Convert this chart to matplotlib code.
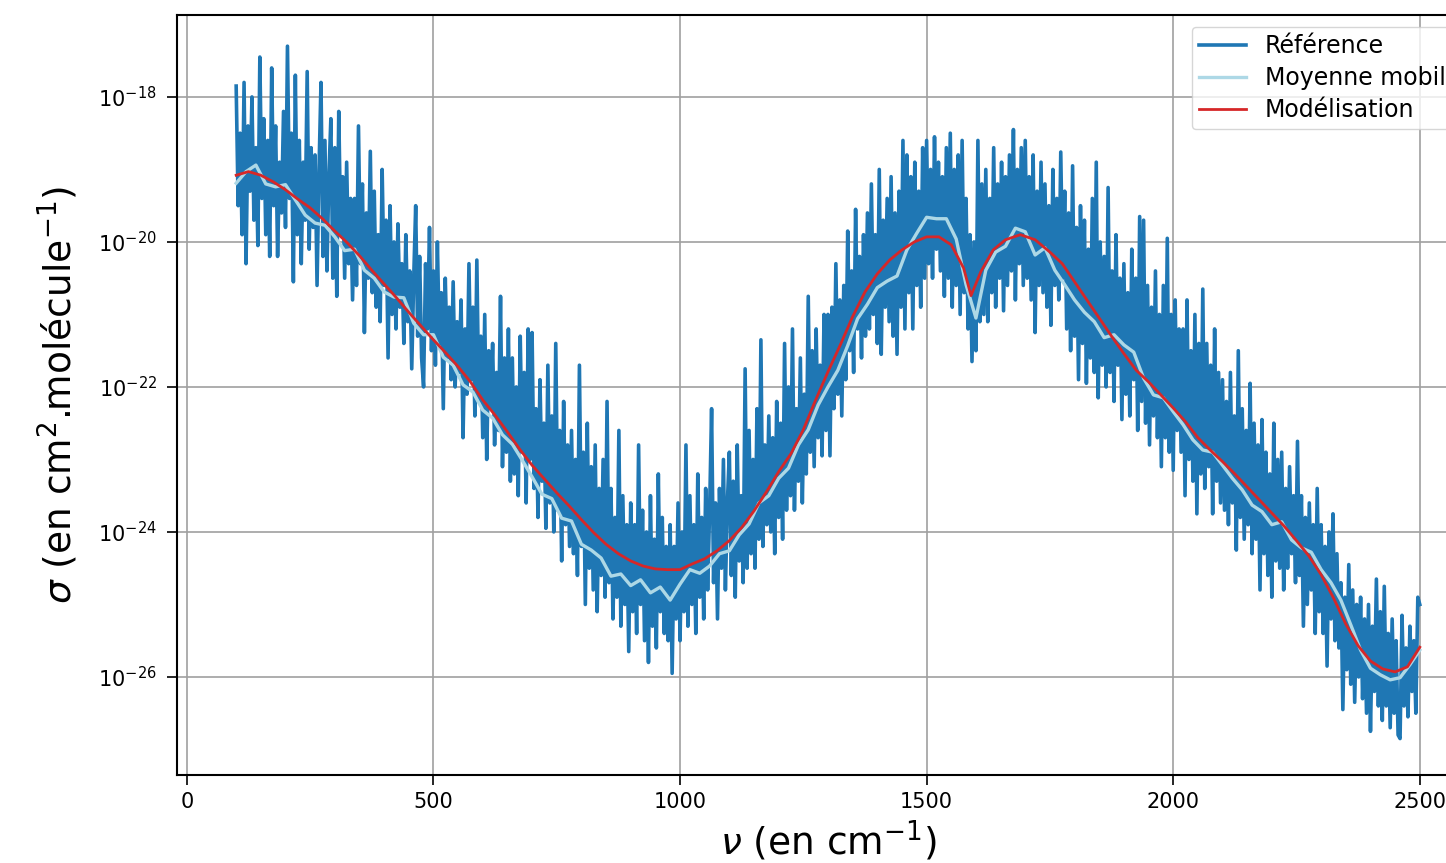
import numpy as np
import matplotlib
import matplotlib.pyplot as plt
from matplotlib.ticker import NullLocator

matplotlib.use("agg")

# log10 of sigma
# reference spectrum, one value every 4 cm-1 from 100 to 2500
ref_log = [
    -17.85, -19.5, -18.5, -19.9, -17.8, -20.3, -18.4, -19.3, -18.0, -19.7,
    -18.7, -20.05, -17.45, -19.4, -18.3, -19.9, -18.6, -20.2, -17.6, -19.5,
    -18.4, -20.2, -18.9, -19.6, -18.2, -19.8, -17.3, -19.4, -18.5, -20.55,
    -17.7, -19.9, -18.6, -20.3, -18.9, -19.7, -17.65, -20.1, -18.7, -19.8,
    -18.8, -20.6, -19.0, -17.8, -20.2, -18.6, -20.4, -19.1, -18.3, -20.5,
    -18.7, -20.75, -18.2, -19.9, -19.1, -20.5, -18.9, -20.3, -19.4, -20.8,
    -19.4, -20.6, -18.4, -20.3, -19.2, -21.25, -19.6, -20.5, -18.75, -20.7,
    -19.3, -20.9, -19.9, -21.1, -19.0, -20.6, -19.7, -21.6, -19.5, -21.0,
    -20.0, -21.2, -19.75, -20.9, -20.3, -21.4, -19.9, -21.1, -20.4, -21.75,
    -20.5, -19.5, -21.3, -20.2, -21.6, -22.0, -20.3, -21.2, -19.8, -21.5,
    -20.4, -21.7, -20.0, -21.4, -20.7, -22.3, -20.5, -21.6, -20.9, -21.9,
    -20.55, -22.0, -21.1, -21.8, -20.8, -22.7, -21.2, -22.1, -20.3, -21.9,
    -20.9, -22.4, -20.25, -22.2, -21.3, -22.7, -21.0, -23.0, -21.5, -22.3,
    -21.4, -22.8, -21.8, -22.6, -20.75, -23.1, -21.6, -22.9, -21.2, -23.3,
    -21.6, -23.2, -22.0, -23.5, -21.3, -22.9, -21.8, -23.6, -21.2, -23.0,
    -21.25, -23.4, -22.3, -23.8, -21.9, -23.3, -22.5, -23.95, -21.7, -23.6,
    -22.4, -24.0, -21.4, -23.7, -22.6, -24.4, -22.2, -23.9, -22.8, -24.2,
    -22.6, -24.3, -23.0, -24.6, -21.7, -24.2, -22.9, -25.0, -22.5, -24.5,
    -23.1, -24.8, -22.8, -25.1, -23.4, -24.6, -23.0, -24.9, -22.2, -24.7,
    -23.4, -25.2, -23.8, -24.9, -22.6, -25.3, -23.5, -25.0, -23.9, -25.65,
    -23.6, -25.1, -23.9, -25.4, -22.8, -25.0, -23.7, -25.5, -24.0, -25.8,
    -23.5, -25.3, -24.1, -25.6, -23.2, -25.1, -23.8, -25.4, -24.2, -25.5,
    -23.9, -25.95, -24.2, -25.2, -23.6, -25.5, -24.0, -25.1, -22.8, -25.3,
    -23.5, -25.0, -23.9, -25.4, -23.2, -24.9, -23.8, -25.2, -23.4, -24.8,
    -23.7, -22.3, -24.7, -23.6, -25.2, -23.4, -24.5, -23.0, -24.8, -23.6,
    -22.9, -24.6, -23.3, -24.9, -22.8, -24.4, -23.5, -24.7, -21.75, -24.5,
    -22.6, -24.3, -23.0, -24.5, -22.3, -24.1, -21.35, -24.2, -22.8, -23.9,
    -22.4, -24.0, -22.7, -24.3, -22.2, -23.8, -22.5, -24.1, -21.4, -23.7,
    -22.0, -23.5, -21.2, -23.7, -22.3, -23.3, -21.6, -23.6, -22.1, -23.2,
    -20.75, -22.9, -21.5, -23.1, -21.2, -22.7, -21.7, -22.95, -21.0, -22.6,
    -21.0, -22.95, -20.9, -22.3, -20.3, -22.1, -20.8, -22.4, -20.6, -21.9,
    -19.85, -21.5, -20.4, -21.8, -19.55, -21.2, -20.2, -21.6, -19.9, -21.3,
    -19.6, -21.2, -19.2, -21.0, -19.9, -21.4, -19.0, -21.55, -19.7, -20.9,
    -19.4, -21.1, -19.1, -21.3, -19.6, -21.55, -19.3, -20.9, -18.6, -21.2,
    -18.8, -20.7, -19.1, -21.2, -18.9, -20.6, -19.3, -20.9, -18.7, -20.5,
    -18.6, -20.3, -19.0, -20.5, -18.55, -20.1, -18.9, -20.4, -19.1, -20.75,
    -18.7, -20.5, -18.5, -20.9, -19.0, -20.6, -18.8, -21.0, -18.6, -20.7,
    -19.4, -21.2, -19.9, -21.65, -20.0, -21.5, -18.6, -21.1, -19.2, -21.0,
    -19.0, -21.1, -19.4, -20.7, -18.7, -20.9, -19.2, -20.5, -18.9, -20.95,
    -19.1, -20.6, -18.8, -20.4, -18.45, -20.8, -19.0, -20.3, -18.7, -20.6,
    -18.6, -20.5, -19.1, -20.8, -18.8, -21.25, -19.3, -20.6, -18.9, -20.7,
    -19.2, -20.9, -19.5, -21.15, -19.0, -20.6, -19.4, -20.8, -18.76, -20.5,
    -19.3, -21.2, -19.6, -21.5, -18.95, -21.3, -19.8, -21.9, -19.5, -21.4,
    -19.7, -21.95, -20.1, -21.6, -19.4, -21.8, -18.9, -22.15, -20.0, -21.7,
    -20.2, -22.0, -19.25, -21.8, -20.4, -22.2, -19.9, -21.7, -20.5, -22.45,
    -20.3, -22.1, -20.7, -22.4, -20.1, -21.9, -20.5, -22.6, -19.65, -22.2,
    -19.7, -22.5, -20.6, -22.8, -20.9, -22.4, -20.4, -22.7, -21.0, -23.1,
    -20.6, -22.7, -19.95, -22.9, -21.0, -23.15, -20.8, -22.6, -21.2, -22.9,
    -21.2, -23.5, -20.8, -23.0, -21.5, -23.3, -21.0, -23.75, -21.4, -23.2,
    -20.65, -23.4, -21.4, -23.1, -21.7, -23.75, -21.2, -23.3, -21.8, -23.6,
    -21.9, -23.7, -22.2, -23.9, -21.8, -23.6, -22.4, -24.25, -21.5, -23.8,
    -22.3, -24.1, -22.6, -23.9, -21.95, -24.3, -22.5, -24.1, -22.8, -24.8,
    -22.45, -24.3, -22.9, -24.6, -23.2, -24.9, -22.5, -24.4, -23.0, -24.5,
    -22.9, -24.8, -23.4, -24.5, -23.1, -24.3, -23.5, -24.7, -22.75, -24.6,
    -23.5, -25.3, -23.8, -25.0, -23.6, -24.8, -23.9, -25.4, -23.4, -25.1,
    -23.9, -25.4, -24.2, -25.85, -24.0, -25.2, -23.75, -25.5, -24.3, -25.6,
    -24.7, -26.45, -24.9, -25.9, -24.45, -26.1, -24.8, -26.35, -25.0, -26.0,
    -24.9, -26.3, -25.2, -26.5, -25.0, -26.75, -25.3, -26.2, -24.65, -26.4,
    -25.1, -26.6, -24.75, -26.4, -25.4, -26.7, -25.2, -26.5, -25.5, -26.8,
    -26.85, -25.15, -26.4, -25.6, -26.55, -25.3, -26.2, -25.5, -26.5, -24.9,
    -25.0,
]

# moyenne mobile, one value every 20 cm-1 from 100 to 2500
moy_log = [
    -19.19, -19.03, -18.94, -19.20, -19.24, -19.21, -19.42, -19.63, -19.74, -19.77,
    -19.93, -20.12, -20.10, -20.39, -20.50, -20.69, -20.76, -20.77, -21.12, -21.28,
    -21.28, -21.59, -21.70, -21.97, -22.07, -22.32, -22.43, -22.66, -22.79, -23.01,
    -23.24, -23.48, -23.54, -23.81, -23.85, -24.17, -24.25, -24.36, -24.61, -24.58,
    -24.74, -24.66, -24.84, -24.76, -24.94, -24.72, -24.52, -24.57, -24.47, -24.30,
    -24.26, -24.04, -23.89, -23.60, -23.50, -23.26, -23.12, -22.80, -22.59, -22.25,
    -22.00, -21.77, -21.43, -21.06, -20.86, -20.63, -20.54, -20.47, -20.11, -19.88,
    -19.66, -19.68, -19.68, -19.96, -20.59, -21.05, -20.39, -20.14, -20.06, -19.81,
    -19.86, -20.18, -20.08, -20.39, -20.59, -20.80, -20.97, -21.10, -21.32, -21.28,
    -21.42, -21.52, -21.88, -22.11, -22.15, -22.34, -22.52, -22.73, -22.87, -22.90,
    -23.08, -23.26, -23.42, -23.63, -23.72, -23.90, -23.86, -24.11, -24.22, -24.28,
    -24.52, -24.70, -24.94, -25.28, -25.63, -25.88, -25.97, -26.04, -26.01, -25.83,
    -25.63,
]

# modelisation
model_nu = [
    100, 125, 150, 175, 200, 225, 250, 275, 300, 325, 350, 375, 400, 425, 450,
    475, 500, 525, 550, 575, 600, 625, 650, 675, 700, 725, 750, 775, 800, 825,
    850, 875, 900, 925, 950, 975, 1000, 1025, 1050, 1075, 1100, 1125, 1150, 1175,
    1200, 1225, 1250, 1275, 1300, 1325, 1350, 1375, 1400, 1425, 1450, 1475, 1500,
    1525, 1550, 1575, 1590, 1610, 1635, 1660, 1690, 1720, 1750, 1775, 1800, 1825,
    1850, 1875, 1900, 1925, 1950, 1975, 2000, 2025, 2050, 2075, 2100, 2125, 2150,
    2175, 2200, 2225, 2250, 2275, 2300, 2325, 2350, 2375, 2400, 2425, 2450, 2475,
    2500,
]
model_log = [
    -19.08, -19.03, -19.08, -19.17, -19.28, -19.41, -19.53, -19.68, -19.85, -20.01,
    -20.19, -20.39, -20.58, -20.77, -20.97, -21.16, -21.35, -21.53, -21.72, -21.93,
    -22.18, -22.39, -22.62, -22.86, -23.08, -23.27, -23.46, -23.64, -23.83, -24.01,
    -24.17, -24.30, -24.40, -24.47, -24.51, -24.52, -24.52, -24.44, -24.37, -24.26,
    -24.12, -23.94, -23.71, -23.45, -23.17, -22.92, -22.59, -22.18, -21.79, -21.42,
    -21.03, -20.69, -20.44, -20.25, -20.11, -20.00, -19.93, -19.93, -20.04, -20.36,
    -20.74, -20.41, -20.11, -19.97, -19.90, -19.97, -20.14, -20.30, -20.55, -20.80,
    -21.05, -21.30, -21.54, -21.77, -21.93, -22.11, -22.29, -22.48, -22.70, -22.87,
    -23.03, -23.20, -23.38, -23.56, -23.74, -23.92, -24.12, -24.33, -24.59, -24.91,
    -25.27, -25.57, -25.78, -25.89, -25.93, -25.86, -25.59,
]

ref_nu = np.linspace(100, 2500, len(ref_log))
moy_nu = np.linspace(100, 2500, len(moy_log))

fig = plt.figure(figsize=(14.46, 8.63), dpi=100)
# the original is cropped on the right, so the axes run past the figure edge
ax = fig.add_axes([0.1224, 0.102, 0.9004, 0.8807])

ax.plot(ref_nu, 10.0 ** np.array(ref_log), color="tab:blue", lw=2.6, label="Référence")
ax.plot(moy_nu, 10.0 ** np.array(moy_log), color="lightblue", lw=2.4, label="Moyenne mobile")
ax.plot(model_nu, 10.0 ** np.array(model_log), color="tab:red", lw=2.0, label="Modélisation")

ax.set_yscale("log")
ax.set_xlim(-20, 2620)
ax.set_ylim(10 ** -27.352, 10 ** -16.869)
ax.set_xticks([0, 500, 1000, 1500, 2000, 2500])
ax.set_yticks([1e-26, 1e-24, 1e-22, 1e-20, 1e-18])
ax.yaxis.set_minor_locator(NullLocator())

ax.tick_params(labelsize=15, length=7.5, width=1.2, pad=5)
ax.tick_params(axis="y", pad=7)
ax.grid(True, color="#a0a0a0", lw=1.2)
for s in ax.spines.values():
    s.set_linewidth(1.5)

ax.set_xlabel(r"$\nu$ (en cm$^{-1}$)", fontsize=27, labelpad=4)
ax.set_ylabel(r"$\sigma$ (en cm$^2$.molécule$^{-1}$)", fontsize=27, labelpad=13)

ax.legend(loc="upper right", fontsize=17, labelspacing=0.35, borderpad=0.3)

fig.savefig("out.png", dpi=100)
plt.close("all")
